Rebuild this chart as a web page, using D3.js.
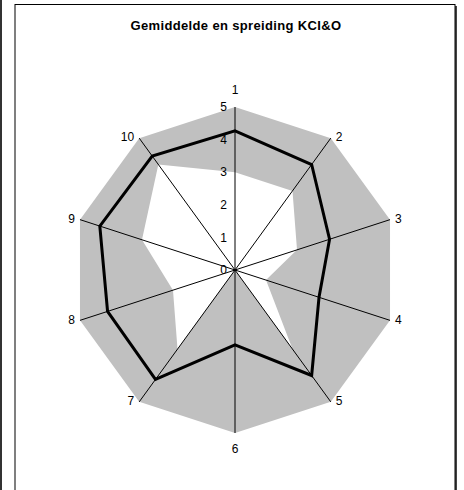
<!DOCTYPE html>
<html>
<head>
<meta charset="utf-8">
<script src="https://cdn.jsdelivr.net/npm/d3@7"></script>
<style>
  body { margin: 0; background: #fff; }
  text { font-family: "Liberation Sans", Arial, sans-serif; }
</style>
</head>
<body>
<svg id="chart" width="464" height="490"></svg>
<script>
var axes = ["1", "2", "3", "4", "5", "6", "7", "8", "9", "10"];
var maxValues = [5, 5, 5, 5, 5, 5, 5, 5, 5, 5];
var minValues = [3, 3, 2, 1, 3, 0, 3, 2, 3, 4];
var meanValues = [4.27, 4.0, 3.05, 2.71, 4.0, 2.3, 4.15, 4.11, 4.36, 4.32];
var ticks = [0, 1, 2, 3, 4, 5];

var svg = d3.select("#chart");
var cx = 235, cy = 270, radius = 163;

// left strip and chart frame
svg.append("rect").attr("x", 0).attr("y", 0).attr("width", 2).attr("height", 490).attr("fill", "#333");
svg.append("rect").attr("x", 16).attr("y", 6).attr("width", 441).attr("height", 500).attr("fill", "#444");
svg.append("rect").attr("x", 15).attr("y", 4.5).attr("width", 440).attr("height", 500)
  .attr("fill", "#fff").attr("stroke", "#000").attr("stroke-width", 1);

svg.append("text")
  .attr("x", 236)
  .attr("y", 30)
  .attr("text-anchor", "middle")
  .style("font-size", "13px")
  .style("font-weight", "bold")
  .style("letter-spacing", "0.35px")
  .text("Gemiddelde en spreiding KCI&O");

var r = d3.scaleLinear().domain([0, 5]).range([0, radius]);
var angle = d3.scalePoint().domain(axes).range([0, 2 * Math.PI * 9 / 10]);

var g = svg.append("g").attr("transform", "translate(" + cx + "," + cy + ")");

function pt(name, v) {
  var a = angle(name);
  return [r(v) * Math.sin(a), -r(v) * Math.cos(a)];
}

function ring(values) {
  return "M" + axes.map(function(d, i) { return pt(d, values[i]).join(","); }).join("L") + "Z";
}

// spread band: max polygon with min polygon cut out
g.append("path")
  .attr("d", ring(maxValues) + ring(minValues))
  .attr("fill", "#c0c0c0")
  .attr("fill-rule", "evenodd");

// axis spokes
g.selectAll("line.spoke")
  .data(axes)
  .enter()
  .append("line")
  .attr("class", "spoke")
  .attr("x1", 0).attr("y1", 0)
  .attr("x2", function(d) { return pt(d, 5)[0]; })
  .attr("y2", function(d) { return pt(d, 5)[1]; })
  .attr("stroke", "#000")
  .attr("stroke-width", 1);

// mean line
g.append("path")
  .attr("d", ring(meanValues))
  .attr("fill", "none")
  .attr("stroke", "#000")
  .attr("stroke-width", 3)
  .attr("stroke-linejoin", "miter");

// tick labels
g.selectAll("text.tick")
  .data(ticks)
  .enter()
  .append("text")
  .attr("class", "tick")
  .attr("x", -8)
  .attr("y", function(d) { return -r(d); })
  .attr("dy", "0.35em")
  .attr("text-anchor", "end")
  .style("font-size", "12px")
  .text(function(d) { return d; });

// category labels
g.selectAll("text.cat")
  .data(axes)
  .enter()
  .append("text")
  .attr("class", "cat")
  .attr("x", function(d) {
    var p = pt(d, 5), s = Math.sin(angle(d));
    if (Math.abs(s) < 0.01) return p[0];
    return p[0] + (s > 0 ? 5 : -5);
  })
  .attr("y", function(d) {
    var p = pt(d, 5), c = Math.cos(angle(d));
    if (c > 0.99) return p[1] - 13;
    if (c < -0.99) return p[1] + 20;
    return p[1] - 1;
  })
  .attr("dy", function(d) {
    var c = Math.abs(Math.cos(angle(d)));
    return c > 0.99 ? 0 : "0.35em";
  })
  .attr("text-anchor", function(d) {
    var s = Math.sin(angle(d));
    if (Math.abs(s) < 0.01) return "middle";
    return s > 0 ? "start" : "end";
  })
  .style("font-size", "12px")
  .text(function(d) { return d; });
</script>
</body>
</html>
